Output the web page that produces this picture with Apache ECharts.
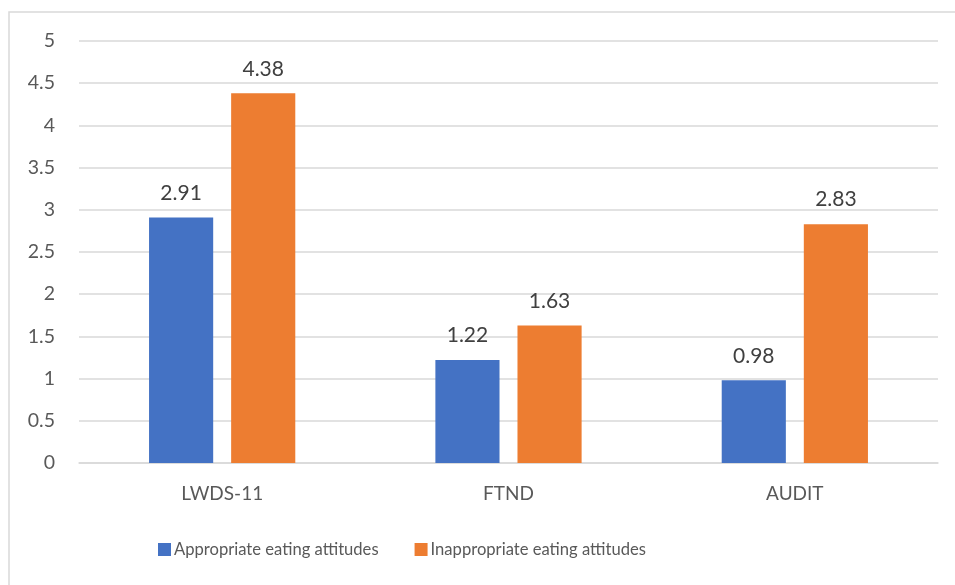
<!DOCTYPE html>
<html>
<head>
<meta charset="utf-8">
<script src="https://cdn.jsdelivr.net/npm/echarts@6/dist/echarts.min.js"></script>
<style>
  html, body { margin: 0; padding: 0; background: #fff; }
  #chart { width: 955px; height: 585px; }
</style>
</head>
<body>
<div id="chart"></div>
<script>
// Scale scores by eating-attitude group
const categories = ['LWDS-11', 'FTND', 'AUDIT'];
const appropriate = [2.91, 1.22, 0.98];
const inappropriate = [4.38, 1.63, 2.83];
const seriesNames = ['Appropriate eating attitudes', 'Inappropriate eating attitudes'];

const FONT = 'Lato';
const chart = echarts.init(document.getElementById('chart'), null, { renderer: 'canvas' });

const labelStyle = {
  show: true,
  position: 'top',
  distance: 14,
  color: '#404040',
  fontFamily: FONT,
  fontSize: 21,
  formatter: p => p.value.toFixed(2)
};

chart.setOption({
  animation: false,
  backgroundColor: '#ffffff',
  graphic: [{
    type: 'rect',
    shape: { x: 9, y: 12, width: 960, height: 600 },
    style: { fill: 'none', stroke: '#d9d9d9', lineWidth: 1.5 },
    silent: true
  }],
  grid: { left: 79, right: 17, top: 41, bottom: 122, containLabel: false },
  legend: {
    data: seriesNames,
    top: 536,
    left: 153,
    itemWidth: 13,
    itemHeight: 13,
    itemGap: 36,
    icon: 'rect',
    textStyle: { color: '#595959', fontFamily: FONT, fontSize: 16.6, padding: [0, 0, 0, -2] }
  },
  xAxis: {
    type: 'category',
    data: categories,
    axisLine: { lineStyle: { color: '#d9d9d9', width: 1.5 } },
    axisTick: { show: false },
    axisLabel: { color: '#595959', fontFamily: FONT, fontSize: 19, margin: 21 }
  },
  yAxis: {
    type: 'value',
    min: 0,
    max: 5,
    interval: 0.5,
    axisLine: { show: false },
    axisTick: { show: false },
    splitLine: { lineStyle: { color: '#d9d9d9', width: 1.5 } },
    axisLabel: { color: '#595959', fontFamily: FONT, fontSize: 19.5, margin: 24 }
  },
  series: [
    {
      name: seriesNames[0],
      type: 'bar',
      data: appropriate,
      barWidth: '22.4%',
      barGap: '28%',
      itemStyle: { color: '#4472c4' },
      label: labelStyle
    },
    {
      name: seriesNames[1],
      type: 'bar',
      data: inappropriate,
      barWidth: '22.4%',
      barGap: '28%',
      itemStyle: { color: '#ed7d31' },
      label: labelStyle
    }
  ]
});
</script>
</body>
</html>
